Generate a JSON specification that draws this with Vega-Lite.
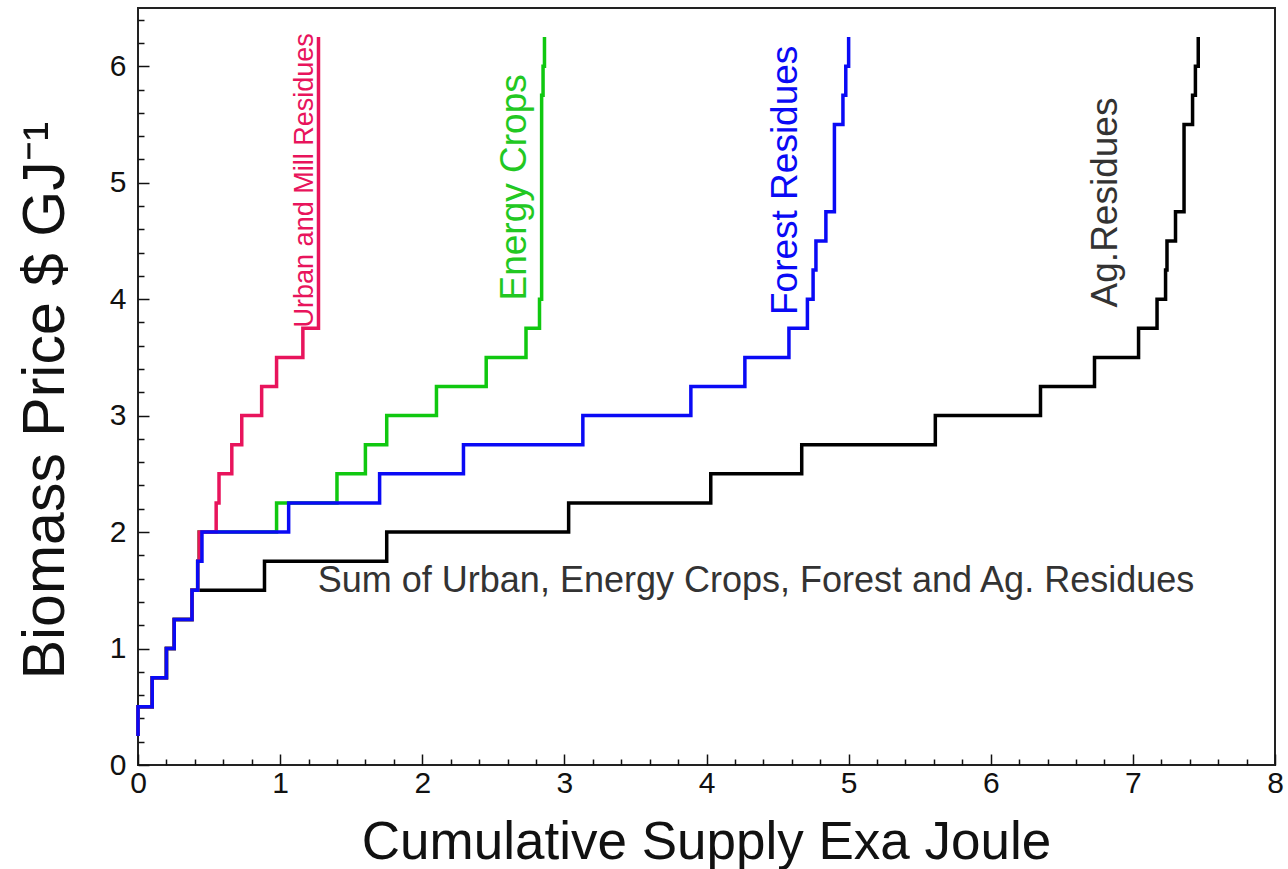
{
  "$schema": "https://vega.github.io/schema/vega-lite/v6.json",
  "width": 1137,
  "height": 757,
  "autosize": {"type": "none"},
  "padding": {"left": 138, "top": 8, "right": 13, "bottom": 104},
  "background": "white",
  "config": {
    "view": {"stroke": "#222", "strokeWidth": 2},
    "font": "Liberation Sans",
    "axis": {"domain": false, "grid": false, "ticks": true, "tickColor": "#111", "tickWidth": 1.5, "labelOverlap": false, "labelFlush": false}
  },
  "resolve": {"axis": {"x": "independent", "y": "independent"}},
  "datasets": {
    "curves": [
      {"s": "Ag", "supply": 0, "price": 0.25}, {"s": "Ag", "supply": 0.10, "price": 0.5}, {"s": "Ag", "supply": 0.20, "price": 0.75}, {"s": "Ag", "supply": 0.255, "price": 1.0}, {"s": "Ag", "supply": 0.38, "price": 1.25}, {"s": "Ag", "supply": 0.89, "price": 1.5}, {"s": "Ag", "supply": 1.75, "price": 1.75}, {"s": "Ag", "supply": 3.03, "price": 2.0}, {"s": "Ag", "supply": 4.03, "price": 2.25}, {"s": "Ag", "supply": 4.67, "price": 2.5}, {"s": "Ag", "supply": 5.61, "price": 2.75}, {"s": "Ag", "supply": 6.35, "price": 3.0}, {"s": "Ag", "supply": 6.73, "price": 3.25}, {"s": "Ag", "supply": 7.04, "price": 3.5}, {"s": "Ag", "supply": 7.17, "price": 3.75}, {"s": "Ag", "supply": 7.23, "price": 4.0}, {"s": "Ag", "supply": 7.24, "price": 4.25}, {"s": "Ag", "supply": 7.30, "price": 4.5}, {"s": "Ag", "supply": 7.36, "price": 4.75}, {"s": "Ag", "supply": 7.36, "price": 5.25}, {"s": "Ag", "supply": 7.42, "price": 5.5}, {"s": "Ag", "supply": 7.44, "price": 5.75}, {"s": "Ag", "supply": 7.46, "price": 6.0}, {"s": "Ag", "supply": 7.46, "price": 6.25},
      {"s": "Urban", "supply": 0, "price": 0.25}, {"s": "Urban", "supply": 0.10, "price": 0.5}, {"s": "Urban", "supply": 0.20, "price": 0.75}, {"s": "Urban", "supply": 0.255, "price": 1.0}, {"s": "Urban", "supply": 0.38, "price": 1.25}, {"s": "Urban", "supply": 0.42, "price": 1.5}, {"s": "Urban", "supply": 0.43, "price": 1.75}, {"s": "Urban", "supply": 0.55, "price": 2.0}, {"s": "Urban", "supply": 0.57, "price": 2.25}, {"s": "Urban", "supply": 0.66, "price": 2.5}, {"s": "Urban", "supply": 0.73, "price": 2.75}, {"s": "Urban", "supply": 0.87, "price": 3.0}, {"s": "Urban", "supply": 0.975, "price": 3.25}, {"s": "Urban", "supply": 1.16, "price": 3.5}, {"s": "Urban", "supply": 1.27, "price": 3.75}, {"s": "Urban", "supply": 1.27, "price": 6.25},
      {"s": "Energy", "supply": 0, "price": 0.25}, {"s": "Energy", "supply": 0.10, "price": 0.5}, {"s": "Energy", "supply": 0.20, "price": 0.75}, {"s": "Energy", "supply": 0.255, "price": 1.0}, {"s": "Energy", "supply": 0.38, "price": 1.25}, {"s": "Energy", "supply": 0.42, "price": 1.5}, {"s": "Energy", "supply": 0.43, "price": 1.75}, {"s": "Energy", "supply": 0.975, "price": 2.0}, {"s": "Energy", "supply": 1.40, "price": 2.25}, {"s": "Energy", "supply": 1.60, "price": 2.5}, {"s": "Energy", "supply": 1.75, "price": 2.75}, {"s": "Energy", "supply": 2.10, "price": 3.0}, {"s": "Energy", "supply": 2.45, "price": 3.25}, {"s": "Energy", "supply": 2.73, "price": 3.5}, {"s": "Energy", "supply": 2.825, "price": 3.75}, {"s": "Energy", "supply": 2.84, "price": 4.0}, {"s": "Energy", "supply": 2.84, "price": 5.5}, {"s": "Energy", "supply": 2.85, "price": 5.75}, {"s": "Energy", "supply": 2.86, "price": 6.0}, {"s": "Energy", "supply": 2.86, "price": 6.25},
      {"s": "Forest", "supply": 0, "price": 0.25}, {"s": "Forest", "supply": 0.10, "price": 0.5}, {"s": "Forest", "supply": 0.20, "price": 0.75}, {"s": "Forest", "supply": 0.255, "price": 1.0}, {"s": "Forest", "supply": 0.38, "price": 1.25}, {"s": "Forest", "supply": 0.42, "price": 1.5}, {"s": "Forest", "supply": 0.45, "price": 1.75}, {"s": "Forest", "supply": 1.06, "price": 2.0}, {"s": "Forest", "supply": 1.70, "price": 2.25}, {"s": "Forest", "supply": 2.29, "price": 2.5}, {"s": "Forest", "supply": 3.13, "price": 2.75}, {"s": "Forest", "supply": 3.89, "price": 3.0}, {"s": "Forest", "supply": 4.27, "price": 3.25}, {"s": "Forest", "supply": 4.58, "price": 3.5}, {"s": "Forest", "supply": 4.71, "price": 3.75}, {"s": "Forest", "supply": 4.75, "price": 4.0}, {"s": "Forest", "supply": 4.77, "price": 4.25}, {"s": "Forest", "supply": 4.84, "price": 4.5}, {"s": "Forest", "supply": 4.90, "price": 4.75}, {"s": "Forest", "supply": 4.90, "price": 5.25}, {"s": "Forest", "supply": 4.96, "price": 5.5}, {"s": "Forest", "supply": 4.98, "price": 5.75}, {"s": "Forest", "supply": 5.00, "price": 6.0}, {"s": "Forest", "supply": 5.00, "price": 6.25}
    ]
  },
  "layer": [
    {
      "data": {"name": "curves"},
      "transform": [{"filter": "datum.s === 'Ag'"}],
      "mark": {"type": "line", "interpolate": "step-before", "color": "#000000", "strokeWidth": 3.5},
      "encoding": {
        "x": {"field": "supply", "type": "quantitative", "scale": {"domain": [0, 8], "nice": false, "zero": false},
          "axis": {"orient": "bottom", "values": [0.2, 0.4, 0.6, 0.8, 1.2], "labels": false, "title": null, "tickSize": -6}},
        "y": {"field": "price", "type": "quantitative", "scale": {"domain": [0, 6.5], "nice": false},
          "axis": {"orient": "left", "values": [0.2, 0.4, 0.6, 0.8, 1.2], "labels": false, "title": null, "tickSize": -6}},
        "order": {"field": "price", "type": "quantitative"}
      }
    },
    {
      "data": {"name": "curves"},
      "transform": [{"filter": "datum.s === 'Energy'"}],
      "mark": {"type": "line", "interpolate": "step-before", "color": "#10c810", "strokeWidth": 3.5},
      "encoding": {
        "x": {"field": "supply", "type": "quantitative", "scale": {"domain": [0, 8], "nice": false, "zero": false},
          "axis": {"orient": "bottom", "values": [0, 1, 2, 3, 4], "format": "d", "labelFontSize": 30, "labelColor": "#111", "labelPadding": 14, "tickSize": -11,
            "title": "Cumulative Supply Exa Joule", "titleFontSize": 53, "titleFontWeight": "normal", "titleColor": "#111",
            "titleX": 568, "titleY": 93, "titleAlign": "center", "titleBaseline": "alphabetic"}},
        "y": {"field": "price", "type": "quantitative", "scale": {"domain": [0, 6.5], "nice": false},
          "axis": {"orient": "left", "values": [0, 1, 2, 3, 4, 5, 6], "format": "d", "labelFontSize": 30, "labelColor": "#111", "labelPadding": 23, "tickSize": -11,
            "title": "Biomass Price $ GJ⁻¹", "titleFontSize": 59, "titleFontWeight": "normal", "titleColor": "#111",
            "titleX": -75, "titleY": 392, "titleAngle": -90, "titleAlign": "center", "titleBaseline": "alphabetic"}},
        "order": {"field": "price", "type": "quantitative"}
      }
    },
    {
      "data": {"name": "curves"},
      "transform": [{"filter": "datum.s === 'Urban'"}],
      "mark": {"type": "line", "interpolate": "step-before", "color": "#e8145c", "strokeWidth": 3.5},
      "encoding": {
        "x": {"field": "supply", "type": "quantitative", "axis": {"orient": "bottom", "values": [1.4, 1.6, 1.8, 2.2, 2.4], "labels": false, "title": null, "tickSize": -6}},
        "y": {"field": "price", "type": "quantitative", "axis": {"orient": "left", "values": [1.4, 1.6, 1.8, 2.2, 2.4], "labels": false, "title": null, "tickSize": -6}},
        "order": {"field": "price", "type": "quantitative"}
      }
    },
    {
      "data": {"name": "curves"},
      "transform": [{"filter": "datum.s === 'Forest'"}],
      "mark": {"type": "line", "interpolate": "step-before", "color": "#0a0af5", "strokeWidth": 3.5},
      "encoding": {
        "x": {"field": "supply", "type": "quantitative", "axis": {"orient": "bottom", "values": [2.6, 2.8, 3.2, 3.4, 3.6], "labels": false, "title": null, "tickSize": -6}},
        "y": {"field": "price", "type": "quantitative", "axis": {"orient": "left", "values": [2.6, 2.8, 3.2, 3.4, 3.6], "labels": false, "title": null, "tickSize": -6}},
        "order": {"field": "price", "type": "quantitative"}
      }
    },
    {
      "data": {"values": [{"label": "Urban and Mill Residues", "supply": 1.23, "price": 5.02}]},
      "mark": {"type": "text", "angle": -90, "align": "center", "baseline": "alphabetic", "fontSize": 27, "color": "#e8145c"},
      "encoding": {
        "x": {"field": "supply", "type": "quantitative", "axis": {"orient": "bottom", "values": [3.8, 4.2, 4.4, 4.6, 4.8], "labels": false, "title": null, "tickSize": -6}},
        "y": {"field": "price", "type": "quantitative", "axis": {"orient": "left", "values": [3.8, 4.2, 4.4, 4.6, 4.8], "labels": false, "title": null, "tickSize": -6}},
        "text": {"field": "label"}
      }
    },
    {
      "data": {"values": [{"label": "Energy Crops", "supply": 2.73, "price": 4.96}]},
      "mark": {"type": "text", "angle": -90, "align": "center", "baseline": "alphabetic", "fontSize": 37, "color": "#22c822"},
      "encoding": {
        "x": {"field": "supply", "type": "quantitative", "axis": {"orient": "bottom", "values": [5.2, 5.4, 5.6, 5.8, 6.2], "labels": false, "title": null, "tickSize": -6}},
        "y": {"field": "price", "type": "quantitative", "axis": {"orient": "left", "values": [5.2, 5.4, 5.6, 5.8, 6.2], "labels": false, "title": null, "tickSize": -6}},
        "text": {"field": "label"}
      }
    },
    {
      "data": {"values": [{"label": "Forest Residues", "supply": 4.64, "price": 5.02}]},
      "mark": {"type": "text", "angle": -90, "align": "center", "baseline": "alphabetic", "fontSize": 37, "color": "#0a0af5"},
      "encoding": {
        "x": {"field": "supply", "type": "quantitative", "axis": {"orient": "bottom", "values": [6.4, 6.6, 6.8, 7.2, 7.4], "labels": false, "title": null, "tickSize": -6}},
        "y": {"field": "price", "type": "quantitative", "axis": {"orient": "left", "values": [6.4], "labels": false, "title": null, "tickSize": -6}},
        "text": {"field": "label"}
      }
    },
    {
      "data": {"values": [{"label": "Ag.Residues", "supply": 6.89, "price": 4.83}]},
      "mark": {"type": "text", "angle": -90, "align": "center", "baseline": "alphabetic", "fontSize": 37, "color": "#333333"},
      "encoding": {
        "x": {"field": "supply", "type": "quantitative", "axis": {"orient": "bottom", "values": [7.6, 7.8], "labels": false, "title": null, "tickSize": -6}},
        "y": {"field": "price", "type": "quantitative", "axis": null},
        "text": {"field": "label"}
      }
    },
    {
      "data": {"values": [{"label": "Sum of Urban, Energy Crops, Forest and Ag. Residues", "supply": 1.265, "price": 1.485}]},
      "mark": {"type": "text", "align": "left", "baseline": "alphabetic", "fontSize": 36, "color": "#333333"},
      "encoding": {
        "x": {"field": "supply", "type": "quantitative", "axis": {"orient": "bottom", "values": [5, 6, 7, 8], "format": "d", "labelFontSize": 30, "labelColor": "#111", "labelPadding": 14, "tickSize": -11, "title": null}},
        "y": {"field": "price", "type": "quantitative", "axis": null},
        "text": {"field": "label"}
      }
    }
  ]
}
